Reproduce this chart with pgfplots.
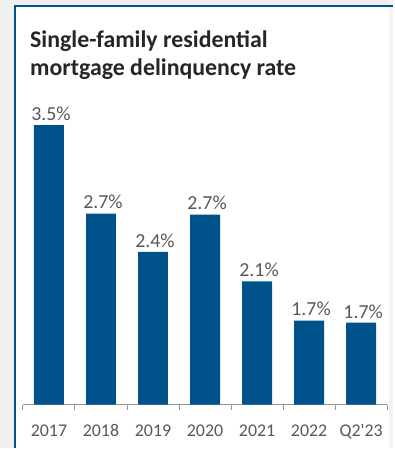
\documentclass[border=0pt]{standalone}
\usepackage{pgfplots}
\pgfplotsset{compat=1.18}
\usepackage{fontspec}
\setmainfont{Carlito}
\definecolor{barblue}{RGB}{0,83,138}
\definecolor{lblgray}{RGB}{89,89,89}
\definecolor{axgray}{RGB}{150,150,150}
\definecolor{bg}{RGB}{240,240,240}
\definecolor{titlec}{RGB}{38,38,38}
\begin{document}
\begin{tikzpicture}[x=1bp,y=1bp]
\fill[bg] (0,0) rectangle (394,449);
\fill[white] (16,0) rectangle (390,442);
\fill[white!95!black] (390,0) rectangle (394,442);
\draw[barblue, line width=2bp] (15.5,0) -- (15.5,442.5) -- (394,442.5);
\node[anchor=base west, font=\fontsize{24}{29}\selectfont\bfseries, text=titlec, inner sep=0] at (30,401.3) {Single-family residential};
\node[anchor=base west, font=\fontsize{24}{29}\selectfont\bfseries, text=titlec, inner sep=0] at (30,373) {mortgage delinquency rate};
\begin{axis}[
  at={(23bp,43.5bp)}, anchor=south west,
  width=365bp, height=321.6bp, scale only axis,
  xmin=-0.5, xmax=6.5, ymin=0.96, ymax=3.9,
  axis y line=none, axis x line*=bottom,
  x axis line style={-, draw=axgray, line width=1bp},
  xtick={0,1,2,3,4,5,6},
  xticklabels={2017,2018,2019,2020,2021,2022,Q2\textquotesingle 23},
  major tick length=0pt,
  minor xtick={-0.5,0.5,1.5,2.5,3.5,4.5,5.5,6.5},
  minor tick length=5bp,
  tick align=outside,
  minor tick style={draw=axgray, line width=1bp},
  xticklabel style={font=\fontsize{18}{20}\selectfont, text=lblgray, anchor=base, yshift=-31.8bp},
  ybar, bar width=30bp,
  nodes near coords={\pgfmathprintnumber[fixed,fixed zerofill,precision=1,assume math mode=true]{\pgfplotspointmeta}\%},
  nodes near coords style={font=\fontsize{20}{22}\selectfont, text=lblgray, anchor=base, yshift=4.7bp, xshift=2bp},
]
\addplot[fill=barblue, draw=none] coordinates {
  (0,3.52) (1,2.71) (2,2.36) (3,2.70) (4,2.09) (5,1.73) (6,1.71)
};
\end{axis}
\end{tikzpicture}
\end{document}
